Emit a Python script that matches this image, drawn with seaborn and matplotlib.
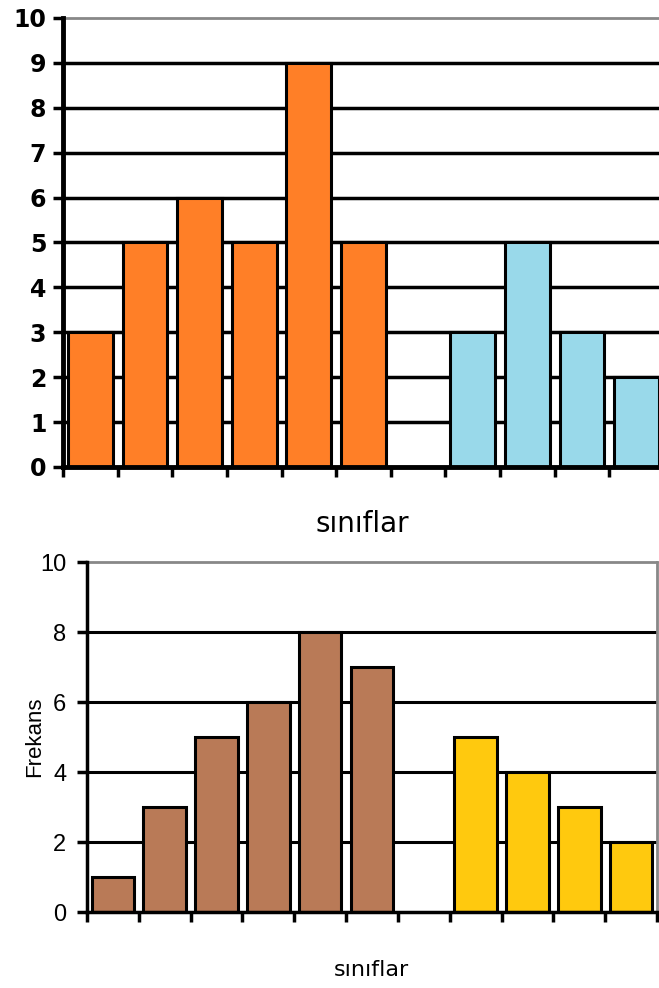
import numpy as np
import pandas as pd
import matplotlib
matplotlib.use("Agg")
import matplotlib.pyplot as plt
import seaborn as sns

sns.set_style("white")
plt.rcParams['font.family'] = ['Liberation Sans', 'DejaVu Sans']
plt.rcParams['text.color'] = 'black'
plt.rcParams['axes.labelcolor'] = 'black'
plt.rcParams['xtick.color'] = 'black'
plt.rcParams['ytick.color'] = 'black'

# ---- data ----
top_cats = [str(i) for i in range(1, 12)]
top_orange_cats = ["1", "2", "3", "4", "5", "6"]
top_orange_vals = [3, 5, 6, 5, 9, 5]
top_blue_cats = ["8", "9", "10", "11"]
top_blue_vals = [3, 5, 3, 2]

bot_cats = [str(i) for i in range(1, 12)]
bot_brown_cats = ["1", "2", "3", "4", "5", "6"]
bot_brown_vals = [1, 3, 5, 6, 8, 7]
bot_yellow_cats = ["8", "9", "10", "11"]
bot_yellow_vals = [5, 4, 3, 2]

xlabel = "sınıflar"
ylabel_bottom = "Frekans"

top_df = pd.DataFrame({
    "cat": top_orange_cats + top_blue_cats,
    "val": top_orange_vals + top_blue_vals,
    "grp": ["a"] * len(top_orange_cats) + ["b"] * len(top_blue_cats),
})
bot_df = pd.DataFrame({
    "cat": bot_brown_cats + bot_yellow_cats,
    "val": bot_brown_vals + bot_yellow_vals,
    "grp": ["a"] * len(bot_brown_cats) + ["b"] * len(bot_yellow_cats),
})

fig = plt.figure(figsize=(6.59, 9.88), dpi=100)
ax1 = fig.add_axes([63 / 659, 1 - 467 / 988, 601 / 659, 449 / 988])
ax2 = fig.add_axes([87 / 659, 1 - 912 / 988, 570 / 659, 350 / 988])


def style(ax, df, cats, palette, yticks, grid_lw, spine_lw, tick_fam,
          bold, fs, pad):
    ax.set_axisbelow(True)
    for y in yticks[1:-1]:
        ax.axhline(y, color="black", lw=grid_lw, zorder=0)
    ax.axhline(yticks[-1], color="#888888", lw=2, zorder=0, clip_on=False)
    sns.barplot(data=df, x="cat", y="val", hue="grp", order=cats,
                palette=palette, dodge=False, width=0.82, saturation=1,
                edgecolor="black", linewidth=2.2, legend=False, ax=ax,
                zorder=2)
    ax.set_xlim(-0.5, len(cats) - 0.5)
    ax.set_ylim(yticks[0], yticks[-1])
    ax.set_xticks(np.arange(len(cats) + 1) - 0.5)
    ax.set_xticklabels([])
    ax.set_yticks(yticks)
    ax.set_yticklabels([str(v) for v in yticks], family=tick_fam,
                       fontsize=fs, fontweight="bold" if bold else "normal")
    ax.tick_params(axis="both", direction="out", length=7, width=2.5,
                   color="black", bottom=True, left=True, pad=pad)
    for s in ["top", "right"]:
        ax.spines[s].set_visible(False)
    ax.spines["left"].set_linewidth(spine_lw)
    ax.spines["bottom"].set_linewidth(spine_lw)
    ax.spines["left"].set_color("black")
    ax.spines["bottom"].set_color("black")
    ax.set_ylabel("")
    ax.set_xlabel("")


style(ax1, top_df, top_cats, ["#FF7F27", "#99D9EA"], list(range(0, 11)),
      2.5, 3.5, ['DejaVu Sans'], True, 17, 5)
style(ax2, bot_df, bot_cats, ["#B97A57", "#FFC90E"], list(range(0, 11, 2)),
      2.2, 2.5, ['Liberation Sans'], False, 17, 8)
ax2.spines["right"].set_visible(True)
ax2.spines["right"].set_color("#888888")
ax2.spines["right"].set_linewidth(2)

fig.text(362 / 659, 1 - 524 / 988, xlabel, ha="center", va="center",
         fontsize=20, family=['DejaVu Sans'])
fig.text(371 / 659, 1 - 970 / 988, xlabel, ha="center", va="center",
         fontsize=16, family=['DejaVu Sans'])
fig.text(35 / 659, 1 - 737 / 988, ylabel_bottom, ha="center", va="center",
         rotation=90, fontsize=16, family=['Liberation Sans'])

fig.savefig("out.png", dpi=100)
